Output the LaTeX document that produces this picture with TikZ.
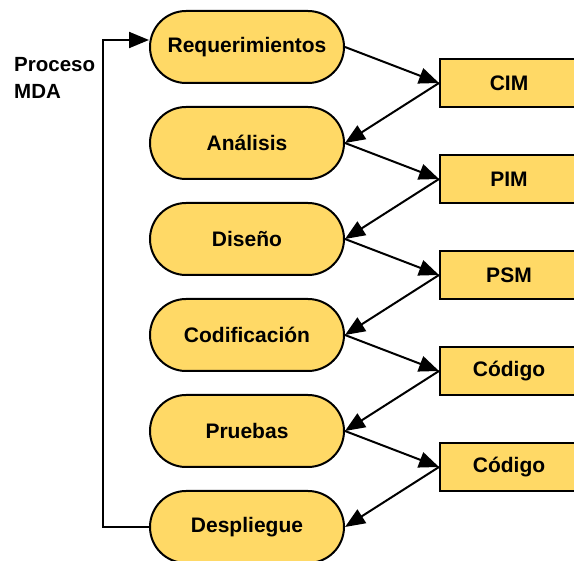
\documentclass[tikz,border=0pt]{standalone}
\usepackage{fontspec}
\setmainfont{Liberation Sans}
\usetikzlibrary{shapes.misc,arrows.meta}
\definecolor{stagefill}{HTML}{FFD966}
\tikzset{
  stage/.style={rounded rectangle, draw=black, line width=2pt, fill=stagefill,
    minimum width=194pt, minimum height=72pt, inner sep=0pt,
    font=\bfseries\fontsize{21}{24}\selectfont},
  artefact/.style={rectangle, draw=black, line width=2pt, fill=stagefill,
    minimum width=138pt, minimum height=48pt, inner sep=0pt,
    font=\bfseries\fontsize{21}{24}\selectfont},
  flow/.style={draw=black, line width=2pt, -{Triangle[length=20pt,width=16pt]}}
}
\begin{document}
\begin{tikzpicture}[x=1pt,y=-1pt]
\useasboundingbox (0,0) rectangle (574,561);
% stages of the process
\node[stage] (req) at (247,47) {Requerimientos};
\node[stage] (ana) at (247,143) {Análisis};
\node[stage] (dis) at (247,239) {Diseño};
\node[stage] (cod) at (247,335) {Codificación};
\node[stage] (pru) at (247,431) {Pruebas};
\node[stage] (des) at (247,527) {Despliegue};
% models produced between stages
\node[artefact] (cim) at (509,83) {CIM};
\node[artefact] (pim) at (509,179) {PIM};
\node[artefact] (psm) at (509,275) {PSM};
\node[artefact] (cod1) at (509,371) {Código};
\node[artefact] (cod2) at (509,467) {Código};
% label
\node[anchor=north west, align=left, inner sep=0pt,
  font=\bfseries\fontsize{20.5}{27}\selectfont] (lbl) at (14,57) {Proceso\\MDA};
% stage -> model -> stage chain
\draw[flow] (req.east) -- (cim.west);
\draw[flow] (cim.west) -- (ana.east);
\draw[flow] (ana.east) -- (pim.west);
\draw[flow] (pim.west) -- (dis.east);
\draw[flow] (dis.east) -- (psm.west);
\draw[flow] (psm.west) -- (cod.east);
\draw[flow] (cod.east) -- (cod1.west);
\draw[flow] (cod1.west) -- (pru.east);
\draw[flow] (pru.east) -- (cod2.west);
\draw[flow] (cod2.west) -- (des.east);
% iteration loop back to the start
\coordinate (loopbot) at (103,527);
\coordinate (looptop) at (103,40);
\draw[flow] (des.west) -- (loopbot) -- (looptop) -- (looptop -| req.west);
\end{tikzpicture}
\end{document}
